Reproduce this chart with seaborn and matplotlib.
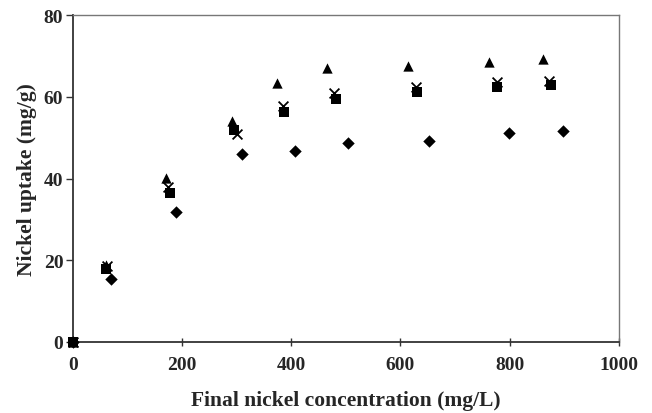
import matplotlib
matplotlib.use("Agg")
import matplotlib.pyplot as plt
import seaborn as sns
import pandas as pd

# data (final conc. mg/L, uptake mg/g)
diamond_x = [0, 70, 188, 309, 406, 503, 652, 798, 897]
diamond_y = [0, 15.4, 31.8, 46.0, 46.8, 48.6, 49.2, 51.1, 51.6]
square_x = [0, 61, 178, 295, 387, 481, 630, 777, 875]
square_y = [0, 17.9, 36.5, 51.9, 56.2, 59.4, 61.1, 62.3, 62.9]
triangle_x = [0, 61, 170, 291, 373, 465, 614, 762, 861]
triangle_y = [0, 18.9, 40.1, 54.0, 63.4, 67.0, 67.5, 68.5, 69.2]
cross_x = [0, 62, 174, 300, 385, 478, 628, 776, 873]
cross_y = [0, 18.5, 37.9, 50.9, 57.8, 61.0, 62.3, 63.6, 63.9]

sns.set_style("white")
plt.rcParams['font.family'] = ['Liberation Serif', 'DejaVu Serif']
plt.rcParams['font.weight'] = 'bold'

fig = plt.figure(figsize=(6.52, 4.14), dpi=100)
ax = fig.add_axes([0.112, 0.1715, 0.837, 0.7895])

series = [
    (diamond_x, diamond_y, "D", 40),
    (square_x, square_y, "s", 42),
    (triangle_x, triangle_y, "^", 55),
    (cross_x, cross_y, "x", 50),
]
for xs, ys, mk, sz in series:
    df = pd.DataFrame({"x": xs, "y": ys})
    if mk == "x":
        sns.scatterplot(data=df, x="x", y="y", ax=ax, marker=mk, s=sz,
                        color="black", linewidth=1.3, clip_on=False, zorder=3)
    else:
        sns.scatterplot(data=df, x="x", y="y", ax=ax, marker=mk, s=sz,
                        color="black", edgecolor="black", linewidth=0,
                        clip_on=False, zorder=3)

ax.set_xlim(0, 1000)
ax.set_ylim(0, 80)
ax.set_xticks([0, 200, 400, 600, 800, 1000])
ax.set_yticks([0, 20, 40, 60, 80])

for side in ["left", "bottom"]:
    ax.spines[side].set_color("#333333")
    ax.spines[side].set_linewidth(1.3)
for side in ["top", "right"]:
    ax.spines[side].set_color("#777777")
    ax.spines[side].set_linewidth(1.0)

ax.tick_params(axis="y", direction="out", length=5, width=1, color="#333333",
               labelsize=14, pad=2, left=True)
ax.tick_params(axis="x", direction="inout", length=6, width=1, color="#333333",
               labelsize=14, pad=7, bottom=True)
for lab in ax.get_xticklabels() + ax.get_yticklabels():
    lab.set_fontweight("bold")

ax.set_xlabel("Final nickel concentration (mg/L)", fontsize=15.5, fontweight="bold", labelpad=12.5)
ax.set_ylabel("Nickel uptake (mg/g)", fontsize=15.5, fontweight="bold", labelpad=5)

fig.savefig("out.png", dpi=100)
